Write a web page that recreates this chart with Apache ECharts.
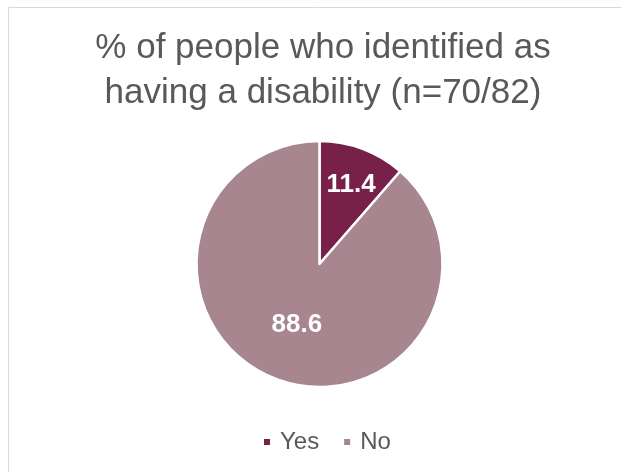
<!DOCTYPE html>
<html>
<head>
<meta charset="utf-8">
<script src="https://cdn.jsdelivr.net/npm/echarts@6/dist/echarts.min.js"></script>
<style>
html,body{margin:0;padding:0;background:#fff;}
#c{width:621px;height:472px;}
</style>
</head>
<body>
<div id="c"></div>
<script>
const titleText = "% of people who identified as\nhaving a disability (n=70/82)";
const categories = ["Yes", "No"];
const values = [11.4, 88.6];
const colors = ["#76204A", "#A7868F"];

const chart = echarts.init(document.getElementById('c'), null, {renderer: 'canvas'});
chart.setOption({
  animation: false,
  backgroundColor: '#fff',
  graphic: [{
    type: 'rect',
    shape: {x: 8.5, y: 7.5, width: 700, height: 600},
    style: {fill: 'none', stroke: '#D9D9D9', lineWidth: 1},
    silent: true,
    z: -1
  }],
  title: {
    text: titleText,
    left: 318,
    textAlign: 'center',
    top: 21,
    textStyle: {
      fontFamily: 'Liberation Sans, Arial, sans-serif',
      fontSize: 35,
      fontWeight: 'normal',
      color: '#595959',
      lineHeight: 45
    }
  },
  legend: {
    data: categories,
    left: 257,
    top: 425,
    icon: 'rect',
    itemWidth: 8,
    itemHeight: 8,
    itemGap: 23,
    textStyle: {
      fontFamily: 'Liberation Sans, Arial, sans-serif',
      fontSize: 24,
      color: '#595959',
      padding: [0, 0, 0, 4]
    }
  },
  series: [{
    type: 'pie',
    center: [319.5, 264],
    radius: 123,
    startAngle: 90,
    clockwise: true,
    data: categories.map((c, i) => ({name: c, value: values[i], itemStyle: {color: colors[i]}})),
    itemStyle: {borderColor: '#fff', borderWidth: 2.5},
    label: {
      show: true,
      position: 'inside',
      formatter: p => p.value.toFixed(1),
      color: '#fff',
      fontFamily: 'Liberation Sans, Arial, sans-serif',
      fontWeight: 'bold',
      fontSize: 26
    },
    labelLayout: function (p) {
      if (p.dataIndex === 0) return {dx: 9, dy: -19};
      return {};
    },
    labelLine: {show: false},
    emphasis: {disabled: true}
  }]
});
</script>
</body>
</html>
